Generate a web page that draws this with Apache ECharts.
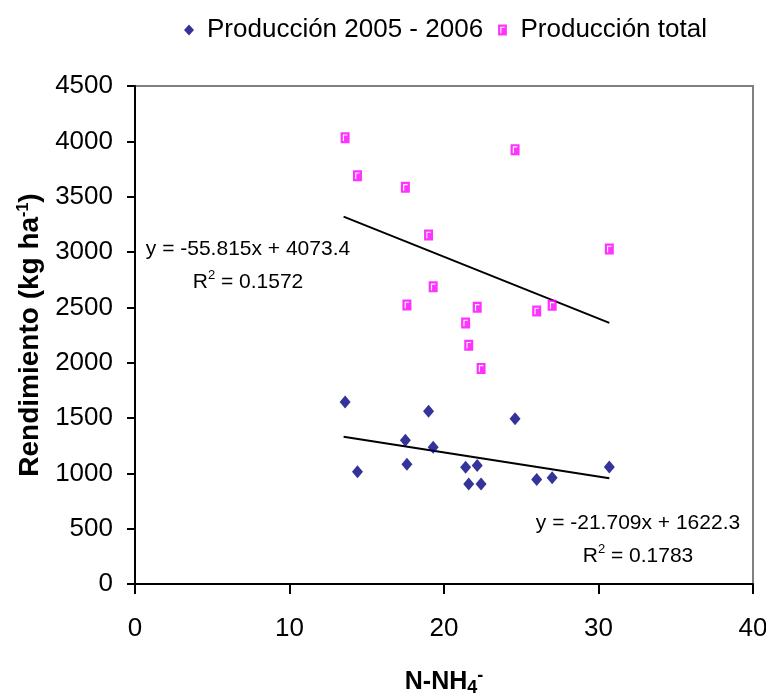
<!DOCTYPE html>
<html>
<head>
<meta charset="utf-8">
<title>Rendimiento vs N-NH4</title>
<script src="https://cdn.jsdelivr.net/npm/echarts@6/dist/echarts.min.js"></script>
<style>
  html, body { margin: 0; padding: 0; background: #fff; }
  #chart { width: 766px; height: 695px; }
</style>
</head>
<body>
<div id="chart"></div>
<script>
// valores
var nh4 = [13.6, 14.4, 17.5, 17.6, 19.0, 19.3, 21.4, 21.6, 22.15, 22.4, 24.6, 26.0, 27.0, 30.7];
var prod0506 = [1645, 1015, 1300, 1082, 1561, 1236, 1055, 903, 1070, 903, 1494, 945, 961, 1058];
var prodTotal = [4033, 3689, 3584, 2521, 3153, 2685, 2358, 2158, 2500, 1948, 3925, 2467, 2518, 3027];

// extremos de las lineas de tendencia
var trendX = [13.5, 30.7];
var trend0506 = [1330, 956];
var trendTotal = [3320, 2360];

var xTicks = { min: 0, max: 40, step: 10 };
var yTicks = { min: 0, max: 4500, step: 500 };

var eqTotal = ['y = -55.815x + 4073.4', '0.1572'];
var eq0506 = ['y = -21.709x + 1622.3', '0.1783'];

var FONT = "'Liberation Sans', Arial, Helvetica, sans-serif";
var pinkSymbol = 'path://M0,0 L8,0 L8,10 L0,10 Z M2,2 L2,8 L3,8 L3,3 L6,3 L6,2 Z';

function pairs(xs, ys) {
    return xs.map(function (x, i) { return [x, ys[i]]; });
}

var chart = echarts.init(document.getElementById('chart'), null, { renderer: 'canvas' });

var r2Rich = {
    a: { fontFamily: FONT, fontSize: 21, color: '#000', lineHeight: 26 },
    s: { fontFamily: FONT, fontSize: 13, color: '#000', lineHeight: 14, verticalAlign: 'top' }
};

function eqText(x, y, lines) {
    return [
        {
            type: 'text', x: x, y: y, z: 10,
            style: { text: lines[0], align: 'center', verticalAlign: 'middle', fontFamily: FONT, fontSize: 21, fill: '#000' }
        },
        {
            type: 'text', x: x, y: y + 33, z: 10,
            style: { text: '{a|R}{s|2}{a| = ' + lines[1] + '}', align: 'center', verticalAlign: 'middle', rich: r2Rich }
        }
    ];
}

var option = {
    backgroundColor: '#fff',
    animation: false,
    legend: {
        left: 179,
        top: 12,
        itemWidth: 10,
        itemHeight: 11,
        itemGap: 15,
        textStyle: { fontFamily: FONT, fontSize: 26, color: '#000', padding: [0, 0, 0, 8] },
        data: [
            { name: 'Producción 2005 - 2006', icon: 'diamond' },
            { name: 'Producción total', icon: pinkSymbol }
        ]
    },
    grid: {
        left: 135, right: 13, top: 86, bottom: 111,
        show: true, borderColor: '#808080', borderWidth: 2,
        outerBoundsMode: 'none'
    },
    xAxis: {
        type: 'value',
        min: xTicks.min, max: xTicks.max, interval: xTicks.step,
        splitLine: { show: false },
        axisLine: { lineStyle: { color: '#000', width: 2 } },
        axisTick: { length: 10, lineStyle: { color: '#000', width: 2 } },
        axisLabel: { margin: 32, fontFamily: FONT, fontSize: 26, color: '#000' },
        name: '{b|N-NH}{sub|4}{sup|-}',
        nameLocation: 'middle',
        nameGap: 83,
        nameTextStyle: {
            rich: {
                b: { fontFamily: FONT, fontSize: 25, fontWeight: 'bold', color: '#000', lineHeight: 30 },
                sub: { fontFamily: FONT, fontSize: 18, fontWeight: 'bold', color: '#000', lineHeight: 20, verticalAlign: 'bottom' },
                sup: { fontFamily: FONT, fontSize: 18, fontWeight: 'bold', color: '#000', lineHeight: 14, verticalAlign: 'top' }
            }
        }
    },
    yAxis: {
        type: 'value',
        min: yTicks.min, max: yTicks.max, interval: yTicks.step,
        splitLine: { show: false },
        axisLine: { show: true, lineStyle: { color: '#000', width: 2 } },
        axisTick: { show: true, length: 8, lineStyle: { color: '#000', width: 2 } },
        axisLabel: {
            margin: 22, fontFamily: FONT, fontSize: 26, color: '#000',
            formatter: function (v) { return String(v); }
        },
        name: '{b|Rendimiento (kg ha}{sup|-1}{b|)}',
        nameLocation: 'middle',
        nameGap: 70,
        nameTextStyle: {
            rich: {
                b: { fontFamily: FONT, fontSize: 28, fontWeight: 'bold', color: '#000', lineHeight: 30 },
                sup: { fontFamily: FONT, fontSize: 16, fontWeight: 'bold', color: '#000', lineHeight: 14, verticalAlign: 'top' }
            }
        }
    },
    series: [
        {
            name: 'Producción 2005 - 2006',
            type: 'scatter',
            symbol: 'diamond',
            symbolSize: [11, 13],
            itemStyle: { color: '#000080' },
            data: pairs(nh4, prod0506),
            z: 3
        },
        {
            name: 'Producción total',
            type: 'scatter',
            symbol: pinkSymbol,
            symbolSize: [9, 11],
            itemStyle: { color: '#ff00ff' },
            data: pairs(nh4, prodTotal),
            z: 3
        },
        {
            name: 'tendencia 2005 - 2006',
            type: 'line',
            symbol: 'none',
            silent: true,
            lineStyle: { color: '#000', width: 2 },
            data: pairs(trendX, trend0506),
            z: 2
        },
        {
            name: 'tendencia total',
            type: 'line',
            symbol: 'none',
            silent: true,
            lineStyle: { color: '#000', width: 2 },
            data: pairs(trendX, trendTotal),
            z: 2
        }
    ],
    graphic: eqText(248, 249, eqTotal).concat(eqText(638, 523, eq0506))
};

chart.setOption(option);
</script>
</body>
</html>
